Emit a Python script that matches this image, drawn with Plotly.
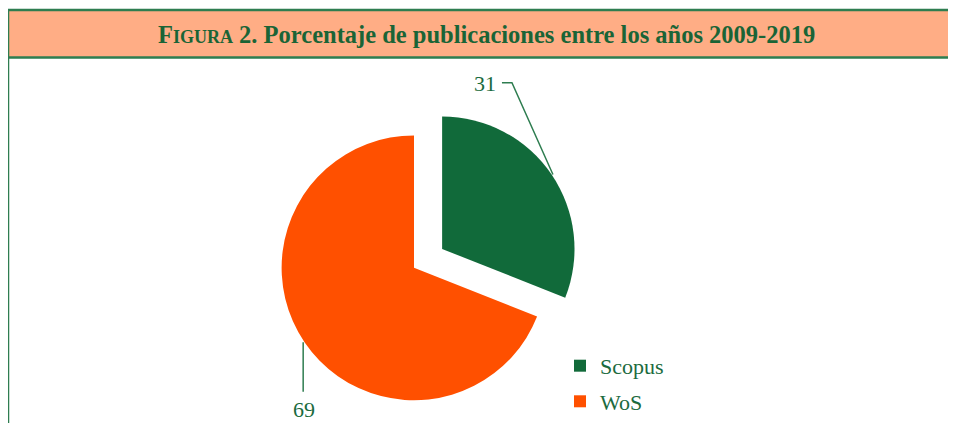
import math
import plotly.graph_objects as go

# ---- data ----
labels = ["Scopus", "WoS"]
values = [31, 69]
title_text = "F<span style='font-size:18px'>IGURA</span> 2. Porcentaje de publicaciones entre los años 2009-2019"

# ---- style ----
WF, HF = 940, 415          # figure size (page body keeps an 8px margin)
OFF = 8
GREEN = "#116A3A"
ORANGE = "#FF5000"
TXT = "#1B6B3E"
LINE = "#2E7D50"
PEACH = "#FFAD85"
FONT = "Liberation Serif"

cx0, cy0, R = 414, 271, 134      # window-pixel centre / radius of base pie
pull_px = 34                     # explode distance of Scopus slice

def px(x):
    return (x - OFF) / WF

def py(y):
    return 1 - (y - OFF) / HF

total = sum(values)
mid_s = math.radians(360 * values[0] / total / 2)          # Scopus bisector (clockwise from top)
mid_w = math.radians(360 * (values[0] + values[1] / 2) / total)
cxs = cx0 + pull_px * math.sin(mid_s)
cys = cy0 - pull_px * math.cos(mid_s)

def dom(cx, cy):
    return dict(x=[px(cx - R), px(cx + R)], y=[py(cy + R), py(cy - R)])

fig = go.Figure()
# base pie: WoS visible
fig.add_trace(go.Pie(labels=labels, values=values, sort=False, direction="clockwise",
                     rotation=0, textinfo="none", hoverinfo="label+value",
                     marker=dict(colors=["rgba(0,0,0,0)", ORANGE]),
                     domain=dom(cx0, cy0), showlegend=False))
# exploded pie: Scopus visible
fig.add_trace(go.Pie(labels=labels, values=values, sort=False, direction="clockwise",
                     rotation=0, textinfo="none", hoverinfo="label+value",
                     marker=dict(colors=[GREEN, "rgba(0,0,0,0)"]),
                     domain=dom(cxs, cys), showlegend=False))
# legend entries
for lab, col in zip(labels, [GREEN, ORANGE]):
    fig.add_trace(go.Scatter(x=[None], y=[None], mode="markers", name=lab,
                             legendgroup=lab,
                             marker=dict(symbol="square", size=12, color=col)))

shapes = []
# title bar
shapes.append(dict(type="rect", xref="paper", yref="paper", x0=px(8), x1=px(980),
                   y0=py(58), y1=py(10), fillcolor=PEACH,
                   line=dict(color=LINE, width=2.5), layer="below"))
# left frame line
shapes.append(dict(type="line", xref="paper", yref="paper", x0=px(8), x1=px(8),
                   y0=py(58), y1=py(460), line=dict(color=LINE, width=2.5)))

# leader lines
ax_s = cxs + R * math.sin(mid_s)
ay_s = cys - R * math.cos(mid_s)
ex_s, ey_s = ax_s - 41, ay_s - 93
shapes.append(dict(type="path", xref="paper", yref="paper",
                   path=f"M{px(ax_s)},{py(ay_s)} L{px(ex_s)},{py(ey_s)} L{px(ex_s - 10)},{py(ey_s)}",
                   line=dict(color=LINE, width=1.5)))
ax_w = cx0 + R * math.sin(mid_w)
ay_w = cy0 - R * math.cos(mid_w)
shapes.append(dict(type="line", xref="paper", yref="paper",
                   x0=px(ax_w), x1=px(ax_w), y0=py(ay_w), y1=py(ay_w + 50),
                   line=dict(color=LINE, width=1.5)))

annotations = [
    dict(text=title_text, x=px(486), y=py(35), xref="paper", yref="paper",
         showarrow=False, xanchor="center", yanchor="middle",
         font=dict(family=FONT, size=24.5, color="#1A6436", weight="bold")),
    dict(text=str(values[0]), x=px(ex_s - 14), y=py(ey_s + 1), xref="paper", yref="paper",
         showarrow=False, xanchor="right", yanchor="middle",
         font=dict(family=FONT, size=22, color=TXT)),
    dict(text=str(values[1]), x=px(ax_w + 1), y=py(ay_w + 53), xref="paper", yref="paper",
         showarrow=False, xanchor="center", yanchor="top",
         font=dict(family=FONT, size=22, color=TXT)),
]

fig.update_layout(
    width=WF, height=HF,
    margin=dict(l=0, r=0, t=0, b=0),
    paper_bgcolor="white", plot_bgcolor="white",
    xaxis=dict(visible=False), yaxis=dict(visible=False),
    shapes=shapes, annotations=annotations,
    legend=dict(x=px(560), y=py(349), xanchor="left", yanchor="top",
                font=dict(family=FONT, size=22, color=TXT),
                tracegroupgap=4, bgcolor="rgba(0,0,0,0)"),
    showlegend=True,
)

fig.write_html("out.html")
